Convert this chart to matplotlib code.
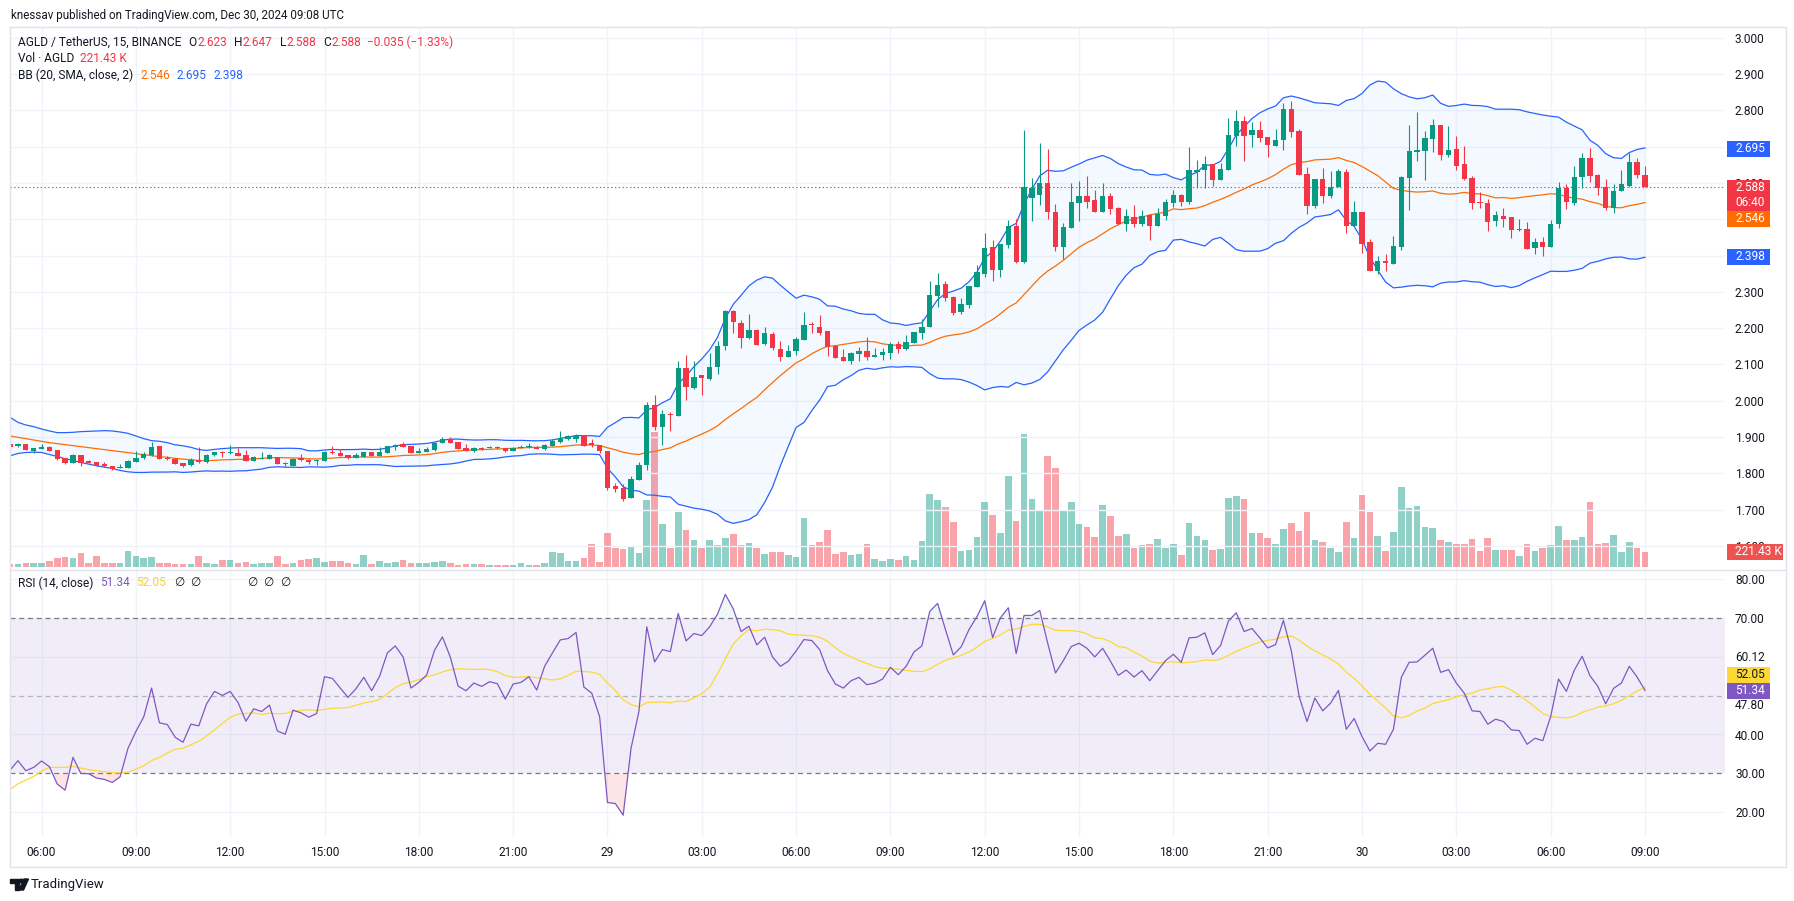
import numpy as np
import pandas as pd
import matplotlib
matplotlib.use("Agg")
import matplotlib.pyplot as plt
from matplotlib.patches import Rectangle, Polygon, Circle

plt.rcParams['font.family'] = ['Roboto', 'DejaVu Sans']

# AGLD / TetherUS, 15 min candles, from 28 Dec 2024 05:00 UTC
start_time = "2024-12-28 05:00"

bar_open = [
    1.880, 1.875, 1.881, 1.863, 1.867, 1.873, 1.864, 1.842, 1.830, 1.851,   # 0
    1.832, 1.831, 1.825, 1.820, 1.816, 1.816, 1.832, 1.842, 1.851, 1.876,   # 10
    1.843, 1.840, 1.830, 1.822, 1.837, 1.831, 1.850, 1.860, 1.855, 1.857,   # 20
    1.851, 1.834, 1.841, 1.841, 1.845, 1.830, 1.820, 1.842, 1.838, 1.834,   # 30
    1.835, 1.859, 1.856, 1.851, 1.843, 1.846, 1.859, 1.849, 1.857, 1.872,   # 40
    1.881, 1.875, 1.857, 1.860, 1.865, 1.885, 1.895, 1.887, 1.870, 1.863,   # 50
    1.870, 1.871, 1.873, 1.870, 1.863, 1.871, 1.872, 1.874, 1.866, 1.876,   # 60
    1.887, 1.896, 1.896, 1.906, 1.883, 1.877, 1.863, 1.765, 1.760, 1.733,   # 70
    1.783, 1.824, 1.988, 1.927, 1.962, 1.959, 2.091, 2.034, 2.070, 2.059,   # 80
    2.092, 2.150, 2.247, 2.215, 2.172, 2.196, 2.156, 2.185, 2.144, 2.122,   # 90
    2.136, 2.168, 2.211, 2.204, 2.192, 2.152, 2.121, 2.111, 2.130, 2.137,   # 100
    2.122, 2.126, 2.133, 2.157, 2.144, 2.160, 2.187, 2.204, 2.289, 2.322,   # 110
    2.286, 2.245, 2.264, 2.314, 2.349, 2.424, 2.359, 2.428, 2.482, 2.383,   # 120
    2.560, 2.567, 2.599, 2.519, 2.424, 2.477, 2.546, 2.564, 2.553, 2.521,   # 130
    2.564, 2.532, 2.488, 2.506, 2.488, 2.512, 2.482, 2.510, 2.546, 2.567,   # 140
    2.548, 2.630, 2.636, 2.652, 2.608, 2.636, 2.730, 2.771, 2.732, 2.746,   # 150
    2.727, 2.703, 2.718, 2.804, 2.743, 2.625, 2.536, 2.611, 2.564, 2.589,   # 160
    2.630, 2.482, 2.520, 2.437, 2.357, 2.385, 2.378, 2.424, 2.615, 2.686,   # 170
    2.688, 2.722, 2.760, 2.677, 2.694, 2.652, 2.614, 2.548, 2.545, 2.495,   # 180
    2.509, 2.506, 2.470, 2.473, 2.421, 2.437, 2.424, 2.488, 2.585, 2.544,   # 190
    2.617, 2.670, 2.621, 2.588, 2.531, 2.578, 2.593, 2.657, 2.623,          # 200
]
bar_high = [
    1.882, 1.885, 1.882, 1.870, 1.881, 1.876, 1.865, 1.842, 1.854, 1.851,
    1.837, 1.832, 1.831, 1.820, 1.825, 1.837, 1.861, 1.858, 1.887, 1.876,
    1.849, 1.843, 1.830, 1.842, 1.872, 1.854, 1.860, 1.861, 1.877, 1.869,
    1.865, 1.847, 1.859, 1.854, 1.846, 1.832, 1.842, 1.854, 1.841, 1.837,
    1.861, 1.876, 1.867, 1.851, 1.856, 1.860, 1.860, 1.872, 1.876, 1.882,
    1.887, 1.875, 1.870, 1.872, 1.887, 1.900, 1.900, 1.887, 1.881, 1.874,
    1.873, 1.876, 1.876, 1.871, 1.874, 1.879, 1.884, 1.875, 1.881, 1.895,
    1.917, 1.906, 1.909, 1.907, 1.895, 1.878, 1.863, 1.774, 1.771, 1.793,
    1.832, 1.996, 2.017, 1.975, 1.968, 2.111, 2.127, 2.111, 2.071, 2.132,
    2.166, 2.251, 2.249, 2.223, 2.240, 2.199, 2.203, 2.190, 2.164, 2.155,
    2.175, 2.246, 2.216, 2.235, 2.193, 2.153, 2.143, 2.135, 2.148, 2.176,
    2.146, 2.146, 2.163, 2.165, 2.181, 2.190, 2.225, 2.330, 2.352, 2.330,
    2.289, 2.284, 2.316, 2.374, 2.462, 2.443, 2.432, 2.498, 2.501, 2.745,
    2.615, 2.710, 2.695, 2.542, 2.490, 2.600, 2.605, 2.619, 2.581, 2.600,
    2.572, 2.533, 2.528, 2.539, 2.525, 2.512, 2.531, 2.556, 2.581, 2.570,
    2.699, 2.663, 2.674, 2.653, 2.655, 2.779, 2.801, 2.784, 2.768, 2.771,
    2.727, 2.749, 2.820, 2.826, 2.749, 2.644, 2.611, 2.641, 2.633, 2.638,
    2.638, 2.550, 2.520, 2.445, 2.399, 2.404, 2.454, 2.619, 2.760, 2.795,
    2.743, 2.776, 2.760, 2.757, 2.729, 2.702, 2.619, 2.575, 2.556, 2.523,
    2.532, 2.507, 2.501, 2.492, 2.448, 2.451, 2.498, 2.603, 2.596, 2.647,
    2.682, 2.697, 2.626, 2.610, 2.596, 2.636, 2.684, 2.670, 2.647,
]
bar_low = [
    1.872, 1.874, 1.865, 1.857, 1.866, 1.862, 1.837, 1.826, 1.828, 1.821,
    1.828, 1.820, 1.819, 1.809, 1.814, 1.815, 1.831, 1.841, 1.849, 1.840,
    1.837, 1.825, 1.819, 1.821, 1.830, 1.830, 1.849, 1.846, 1.854, 1.847,
    1.833, 1.833, 1.840, 1.839, 1.825, 1.821, 1.820, 1.835, 1.826, 1.824,
    1.834, 1.854, 1.848, 1.841, 1.842, 1.845, 1.848, 1.848, 1.856, 1.865,
    1.873, 1.855, 1.856, 1.859, 1.863, 1.884, 1.884, 1.867, 1.862, 1.860,
    1.864, 1.870, 1.866, 1.860, 1.862, 1.870, 1.871, 1.867, 1.865, 1.876,
    1.885, 1.893, 1.887, 1.875, 1.872, 1.857, 1.754, 1.749, 1.725, 1.733,
    1.781, 1.810, 1.920, 1.877, 1.918, 1.957, 2.001, 2.033, 2.015, 2.058,
    2.073, 2.139, 2.186, 2.145, 2.171, 2.153, 2.153, 2.141, 2.111, 2.121,
    2.127, 2.168, 2.187, 2.180, 2.124, 2.118, 2.110, 2.102, 2.111, 2.113,
    2.120, 2.113, 2.115, 2.133, 2.141, 2.160, 2.171, 2.204, 2.259, 2.276,
    2.237, 2.239, 2.257, 2.313, 2.342, 2.330, 2.342, 2.422, 2.380, 2.380,
    2.494, 2.540, 2.500, 2.413, 2.391, 2.476, 2.496, 2.532, 2.520, 2.520,
    2.515, 2.485, 2.469, 2.480, 2.482, 2.444, 2.482, 2.499, 2.535, 2.536,
    2.543, 2.586, 2.586, 2.592, 2.607, 2.635, 2.702, 2.660, 2.699, 2.714,
    2.671, 2.702, 2.692, 2.727, 2.622, 2.514, 2.531, 2.545, 2.559, 2.588,
    2.463, 2.482, 2.408, 2.357, 2.348, 2.357, 2.377, 2.415, 2.525, 2.660,
    2.608, 2.685, 2.663, 2.671, 2.636, 2.608, 2.528, 2.531, 2.468, 2.481,
    2.479, 2.448, 2.469, 2.417, 2.404, 2.399, 2.423, 2.475, 2.527, 2.539,
    2.585, 2.603, 2.567, 2.526, 2.517, 2.578, 2.590, 2.613, 2.588,
]
bar_close = [
    1.874, 1.882, 1.865, 1.869, 1.873, 1.863, 1.840, 1.829, 1.851, 1.828,
    1.830, 1.821, 1.821, 1.812, 1.819, 1.834, 1.842, 1.853, 1.873, 1.841,
    1.840, 1.827, 1.821, 1.838, 1.831, 1.851, 1.859, 1.855, 1.860, 1.848,
    1.834, 1.845, 1.843, 1.850, 1.826, 1.826, 1.840, 1.837, 1.831, 1.836,
    1.859, 1.856, 1.849, 1.843, 1.851, 1.859, 1.849, 1.859, 1.876, 1.879,
    1.874, 1.856, 1.861, 1.866, 1.884, 1.895, 1.885, 1.868, 1.863, 1.871,
    1.866, 1.874, 1.869, 1.861, 1.870, 1.874, 1.876, 1.868, 1.879, 1.890,
    1.898, 1.902, 1.904, 1.876, 1.879, 1.863, 1.760, 1.758, 1.730, 1.785,
    1.824, 1.989, 1.927, 1.964, 1.960, 2.091, 2.037, 2.066, 2.062, 2.094,
    2.152, 2.247, 2.216, 2.172, 2.196, 2.155, 2.188, 2.145, 2.122, 2.138,
    2.171, 2.210, 2.208, 2.188, 2.148, 2.119, 2.111, 2.132, 2.137, 2.122,
    2.126, 2.135, 2.157, 2.144, 2.162, 2.190, 2.204, 2.292, 2.319, 2.284,
    2.242, 2.267, 2.316, 2.356, 2.421, 2.359, 2.432, 2.482, 2.383, 2.590,
    2.585, 2.599, 2.519, 2.424, 2.479, 2.548, 2.564, 2.548, 2.521, 2.564,
    2.529, 2.488, 2.509, 2.488, 2.509, 2.482, 2.514, 2.548, 2.567, 2.548,
    2.636, 2.636, 2.652, 2.608, 2.638, 2.732, 2.771, 2.730, 2.746, 2.725,
    2.705, 2.718, 2.804, 2.741, 2.623, 2.536, 2.611, 2.564, 2.589, 2.633,
    2.482, 2.520, 2.433, 2.357, 2.385, 2.379, 2.426, 2.616, 2.688, 2.691,
    2.724, 2.760, 2.677, 2.691, 2.647, 2.611, 2.545, 2.545, 2.492, 2.512,
    2.502, 2.470, 2.473, 2.418, 2.437, 2.424, 2.487, 2.585, 2.549, 2.616,
    2.670, 2.618, 2.586, 2.531, 2.578, 2.598, 2.657, 2.623, 2.588,
]
volume_k = [
    44, 44, 59, 59, 59, 89, 133, 148, 133, 207,
    59, 162, 59, 59, 59, 236, 162, 133, 148, 59,
    59, 44, 44, 44, 162, 59, 44, 103, 103, 59,
    74, 44, 59, 59, 162, 44, 59, 103, 118, 133,
    74, 89, 89, 59, 44, 177, 44, 89, 59, 74,
    103, 59, 59, 59, 74, 89, 59, 30, 44, 44,
    44, 30, 30, 30, 30, 59, 30, 30, 59, 221,
    207, 89, 89, 133, 339, 74, 502, 280, 261, 290,
    202, 984, 1988, 630, 276, 807, 541, 394, 276, 394,
    320, 423, 482, 320, 349, 276, 187, 216, 216, 172,
    143, 718, 320, 364, 541, 187, 216, 172, 187, 335,
    113, 84, 113, 98, 157, 98, 379, 1082, 984, 881,
    659, 231, 246, 438, 954, 763, 497, 1348, 674, 1968,
    999, 822, 1643, 1456, 822, 954, 630, 585, 438, 910,
    748, 453, 482, 276, 320, 335, 408, 276, 335, 172,
    645, 453, 394, 246, 261, 1014, 1043, 999, 497, 497,
    423, 335, 556, 645, 526, 807, 394, 364, 276, 216,
    659, 423, 1058, 807, 453, 231, 512, 1176, 866, 895,
    585, 571, 394, 364, 335, 335, 408, 231, 423, 246,
    246, 246, 157, 335, 231, 276, 320, 610, 394, 403,
    448, 954, 335, 349, 467, 221, 369, 276, 221.43,
]
rsi_14 = [
    30.86, 33.27, 30.69, 31.55, 33.18, 31.72, 27.25, 25.70, 34.13, 30.00,
    29.91, 28.80, 28.45, 27.68, 29.14, 36.45, 40.75, 44.54, 51.94, 42.99,
    42.56, 39.29, 38.00, 42.65, 42.22, 47.89, 51.08, 50.04, 51.08, 48.24,
    43.42, 46.60, 45.91, 47.55, 40.92, 40.06, 46.26, 45.57, 44.45, 45.40,
    54.86, 54.43, 51.94, 49.53, 51.76, 54.69, 51.25, 54.95, 60.97, 62.77,
    59.94, 51.94, 53.40, 55.29, 61.66, 65.10, 59.94, 52.45, 51.25, 53.23,
    52.37, 53.57, 53.05, 49.10, 52.97, 53.40, 54.86, 51.42, 57.53, 60.97,
    64.32, 64.67, 66.22, 52.19, 50.65, 44.62, 22.52, 22.26, 19.25, 36.45,
    45.91, 67.68, 58.65, 61.83, 61.31, 71.12, 64.06, 65.96, 65.44, 67.68,
    70.95, 76.02, 72.32, 66.47, 67.85, 63.03, 65.01, 59.94, 57.53, 58.82,
    61.48, 64.41, 64.15, 61.83, 56.41, 52.97, 51.94, 53.83, 54.69, 52.80,
    53.23, 54.26, 57.27, 55.38, 57.53, 61.23, 62.77, 71.63, 73.70, 66.99,
    60.45, 62.52, 66.99, 70.26, 74.39, 64.92, 70.00, 72.58, 60.80, 70.60,
    70.60, 71.89, 63.55, 55.81, 58.99, 62.60, 63.46, 62.17, 59.94, 62.17,
    58.82, 55.20, 56.58, 54.77, 56.41, 53.83, 56.41, 58.99, 60.62, 58.56,
    64.84, 65.01, 66.13, 60.54, 62.86, 69.14, 71.29, 66.47, 67.25, 64.84,
    62.26, 63.12, 69.31, 61.57, 49.78, 43.33, 49.35, 46.09, 48.06, 51.33,
    41.35, 44.11, 39.46, 35.76, 37.74, 37.48, 41.35, 54.69, 58.56, 58.65,
    60.37, 62.17, 55.98, 56.67, 53.23, 50.65, 46.09, 45.91, 42.65, 43.94,
    43.33, 41.18, 41.01, 37.48, 39.03, 38.43, 44.62, 54.26, 51.08, 56.49,
    60.11, 55.12, 52.37, 47.89, 51.85, 53.23, 57.53, 54.77, 51.34,
]
# first values of the lines, whose look-back starts before the visible window
rsi_ma_first = [25.87, 27.33, 28.28, 29.23, 30.60, 31.55, 31.55, 31.55, 31.80,
                31.38, 30.95, 30.69, 30.43]
bb_upper_first = [1.9545, 1.9407, 1.9334, 1.9288, 1.9224, 1.9169, 1.9123, 1.9123,
                  1.9132, 1.9150, 1.9159, 1.9169, 1.9178, 1.9169, 1.9141, 1.9104,
                  1.9031, 1.8958, 1.8903]
bb_basis_first = [1.9030, 1.8994, 1.8957, 1.8920, 1.8884, 1.8847, 1.8819, 1.8792,
                  1.8765, 1.8737, 1.8710, 1.8682, 1.8655, 1.8627, 1.8600, 1.8572,
                  1.8545, 1.8517, 1.8490]
bb_lower_first = [1.8484, 1.8549, 1.8576, 1.8585, 1.8576, 1.8521, 1.8466, 1.8402,
                  1.8356, 1.8301, 1.8255, 1.8209, 1.8173, 1.8136, 1.8081, 1.8044,
                  1.8026, 1.8026, 1.8035]
# last values as printed in the legend
bb_legend = (2.546, 2.695, 2.398)
rsi_legend = (51.34, 52.05)
countdown = "06:40"

# ---- derived series ----
n = len(bar_close)
times = pd.date_range(start_time, periods=n, freq="15min")
x = np.arange(n)
o, h, l, c = (np.array(v) for v in (bar_open, bar_high, bar_low, bar_close))
up = c >= o

closes = pd.Series(c)
basis = closes.rolling(20).mean().to_numpy()
dev = closes.rolling(20).std(ddof=0).to_numpy()
upper, lower = basis + 2 * dev, basis - 2 * dev
k = len(bb_basis_first)
basis[:k], upper[:k], lower[:k] = bb_basis_first, bb_upper_first, bb_lower_first

rsi = np.array(rsi_14)
rsi_ma = pd.Series(rsi).rolling(14).mean().to_numpy()
rsi_ma[:len(rsi_ma_first)] = rsi_ma_first

tick_idx = [i for i, t in enumerate(times) if t.minute == 0 and t.hour % 3 == 0]
tick_lab = [str(times[i].day) if times[i].hour == 0 else times[i].strftime("%H:%M")
            for i in tick_idx]

# ---- colours ----
GREEN, RED = "#089981", "#f23645"
BLUE, ORANGE = "#2962ff", "#ff6d00"
PURPLE, YELLOW = "#7e57c2", "#fdd835"
TEXT, GRID, BORDER = "#131722", "#f0f3fa", "#e0e3eb"

# ---- layout (pixels of the 1794x901 picture) ----
W, H = 1794, 901
fig = plt.figure(figsize=(W / 100, H / 100), dpi=100)
fig.patch.set_facecolor("white")


def frac(x0, y0, x1, y1):
    return [x0 / W, 1 - y1 / H, (x1 - x0) / W, (y1 - y0) / H]


BAR0_PX, BAR_PX = 10.1, 7.86
PANE_L, PANE_R = 10, 1725
xlim = ((PANE_L - BAR0_PX) / BAR_PX, (PANE_R - BAR0_PX) / BAR_PX)
P_TOP, P_BOT, P3_PX, PX_PER = 27, 569, 37.8, 363.0
price_ylim = (3.0 - (P_BOT - P3_PX) / PX_PER, 3.0 + (P3_PX - P_TOP) / PX_PER)
VOL_PER_PX, VOL_BASE = 14.76, 567
vol_ylim = (-(P_BOT - VOL_BASE) * VOL_PER_PX, (VOL_BASE - P_TOP) * VOL_PER_PX)
R_TOP, R_BOT, R80_PX, R_PER = 571, 837, 578.9, 3.89
rsi_ylim = (80 - (R_BOT - R80_PX) / R_PER, 80 + (R80_PX - R_TOP) / R_PER)

# price pane: volume underneath, candles on a twin axis above
axv = fig.add_axes(frac(PANE_L, P_TOP, PANE_R, P_BOT))
ax = axv.twinx()
ar = fig.add_axes(frac(PANE_L, R_TOP, PANE_R, R_BOT))
for a in (axv, ax, ar):
    a.set_xlim(*xlim)
    for s in a.spines.values():
        s.set_visible(False)

axv.set_ylim(*vol_ylim)
axv.set_yticks([])
axv.set_xticks([])
for i in tick_idx:
    axv.axvline(i, color=GRID, lw=1, zorder=0)
axv.bar(x, volume_k, width=0.84, color=np.where(up, GREEN, RED), alpha=0.45,
        linewidth=0, zorder=1)

ax.set_ylim(*price_ylim)
ptick = np.round(np.arange(1.6, 3.0001, 0.1), 1)
ax.set_yticks(ptick, [f"{p:.3f}" for p in ptick])
ax.tick_params(axis="y", length=0, pad=7.2, labelsize=8.6, labelcolor=TEXT)
for p in ptick:
    ax.axhline(p, color=GRID, lw=1, zorder=0)

ax.fill_between(x, lower, upper, color="#2196f3", alpha=0.05, lw=0, zorder=1)
ax.plot(x, upper, color=BLUE, lw=0.9, zorder=2)
ax.plot(x, lower, color=BLUE, lw=0.9, zorder=2)
ax.plot(x, basis, color=ORANGE, lw=0.9, zorder=2)

cols = np.where(up, GREEN, RED)
ax.vlines(x, l, h, colors=cols, lw=0.8, zorder=3)
ax.bar(x, np.maximum(np.abs(c - o), 0.0028), bottom=np.minimum(o, c), width=0.68,
       color=cols, linewidth=0, zorder=4)
ax.axhline(c[-1], color=RED, lw=0.8, ls=(0, (1.2, 2.2)), zorder=5)

# RSI pane
ar.set_ylim(*rsi_ylim)
for i in tick_idx:
    ar.axvline(i, color=GRID, lw=1, zorder=0)
for v in (20, 40, 60, 80):
    ar.axhline(v, color=GRID, lw=1, zorder=0)
ar.axhspan(30, 70, color=PURPLE, alpha=0.1, lw=0, zorder=0.5)
ar.axhline(70, color="#787b86", lw=0.9, ls=(0, (4, 3)), zorder=1)
ar.axhline(50, color="#787b86", lw=0.9, ls=(0, (4, 3)), alpha=0.5, zorder=1)
ar.axhline(30, color="#787b86", lw=0.9, ls=(0, (4, 3)), zorder=1)
ar.fill_between(x, rsi, 70, where=rsi > 70, interpolate=True, color=GREEN,
                alpha=0.07, lw=0, zorder=1)
ar.fill_between(x, rsi, 30, where=rsi < 30, interpolate=True, color=RED,
                alpha=0.13, lw=0, zorder=1)
ar.plot(x, rsi_ma, color=YELLOW, lw=0.9, zorder=2)
ar.plot(x, rsi, color=PURPLE, lw=0.9, zorder=3)
ar.yaxis.tick_right()
rticks = [80, 70, 60.12, 47.80, 40, 30, 20]
ar.set_yticks(rticks, [f"{v:.2f}" for v in rticks])
ar.tick_params(axis="y", length=0, pad=7.2, labelsize=8.6, labelcolor=TEXT)
ar.set_xticks(tick_idx, tick_lab)
ar.tick_params(axis="x", length=0, pad=6.5, labelsize=8.6, labelcolor=TEXT)

# ---- overlay: frame, legends, value tags, logo ----
ov = fig.add_axes([0, 0, 1, 1], zorder=10)
ov.set_xlim(0, W)
ov.set_ylim(H, 0)
ov.axis("off")
ov.plot([10, 1786, 1786, 10, 10], [27, 27, 867, 867, 27], color=BORDER, lw=1)
ov.plot([10, 1786], [570, 570], color=BORDER, lw=1)

renderer = fig.canvas.get_renderer()


def write_run(x0, y, pieces, size=8.6):
    for s, col, gap in pieces:
        t = ov.text(x0, y, s, color=col, fontsize=size, ha="left", va="center")
        x0 += t.get_window_extent(renderer).width + gap


ov.text(11, 15, "knessav published on TradingView.com, Dec 30, 2024 09:08 UTC",
        color=TEXT, fontsize=8.4, ha="left", va="center")

vc = RED if c[-1] < o[-1] else GREEN
chg = c[-1] - c[-2]
chg_txt = f"{chg:+.3f} ({chg / c[-2] * 100:+.2f}%)".replace("-", "\u2212")
write_run(18, 42.3, [("AGLD / TetherUS, 15, BINANCE", TEXT, 7),
                     ("O", TEXT, 0.5), (f"{o[-1]:.3f}", vc, 7),
                     ("H", TEXT, 0.5), (f"{h[-1]:.3f}", vc, 7),
                     ("L", TEXT, 0.5), (f"{l[-1]:.3f}", vc, 7),
                     ("C", TEXT, 0.5), (f"{c[-1]:.3f}", vc, 6),
                     (chg_txt, vc, 0)])
write_run(18, 59, [("Vol \u00b7 AGLD", TEXT, 6), (f"{volume_k[-1]:.2f} K", vc, 0)])
write_run(18, 75.7, [("BB (20, SMA, close, 2)", TEXT, 7),
                     (f"{bb_legend[0]:.3f}", ORANGE, 7),
                     (f"{bb_legend[1]:.3f}", BLUE, 7),
                     (f"{bb_legend[2]:.3f}", BLUE, 0)])
write_run(18, 583, [("RSI (14, close)", TEXT, 7),
                    (f"{rsi_legend[0]:.2f}", PURPLE, 6),
                    (f"{rsi_legend[1]:.2f}", "#f2d22e", 8),
                    ("\u2205", TEXT, 6), ("\u2205", TEXT, 0)])
write_run(247, 583, [("\u2205", TEXT, 6), ("\u2205", TEXT, 6), ("\u2205", TEXT, 0)])


def tag(y0, y1, face, lines, fg="white", w=43):
    ov.add_patch(Rectangle((1727, y0), w, y1 - y0, facecolor=face, edgecolor="none"))
    step = (y1 - y0) / len(lines)
    for j, s in enumerate(lines):
        ov.text(1735, y0 + step * (j + 0.5), s, color=fg, fontsize=8.6,
                ha="left", va="center")


tag(141, 157, BLUE, [f"{bb_legend[1]:.3f}"])
tag(179.5, 210.5, RED, [f"{c[-1]:.3f}", countdown])
tag(210.5, 226.5, ORANGE, [f"{bb_legend[0]:.3f}"])
tag(248.5, 264.5, BLUE, [f"{bb_legend[2]:.3f}"])
tag(543.5, 559.5, "#ef5350", [f"{volume_k[-1]:.2f} K"], w=56)
tag(667, 683, YELLOW, [f"{rsi_legend[1]:.2f}"], fg=TEXT)
tag(682.5, 698.5, PURPLE, [f"{rsi_legend[0]:.2f}"])

# TradingView mark
ov.add_patch(Polygon([(10, 879), (18.5, 879), (18.5, 890), (14.5, 890), (14.5, 883),
                      (10, 883)], closed=True, color=TEXT))
ov.add_patch(Circle((21.2, 881), 1.8, color=TEXT))
ov.add_patch(Polygon([(24, 879), (28.5, 879), (23.5, 890), (19, 890)], closed=True,
                     color=TEXT))
ov.text(31, 884.5, "TradingView", color=TEXT, fontsize=9.5, ha="left", va="center")

fig.savefig("out.png", dpi=100, facecolor="white")
